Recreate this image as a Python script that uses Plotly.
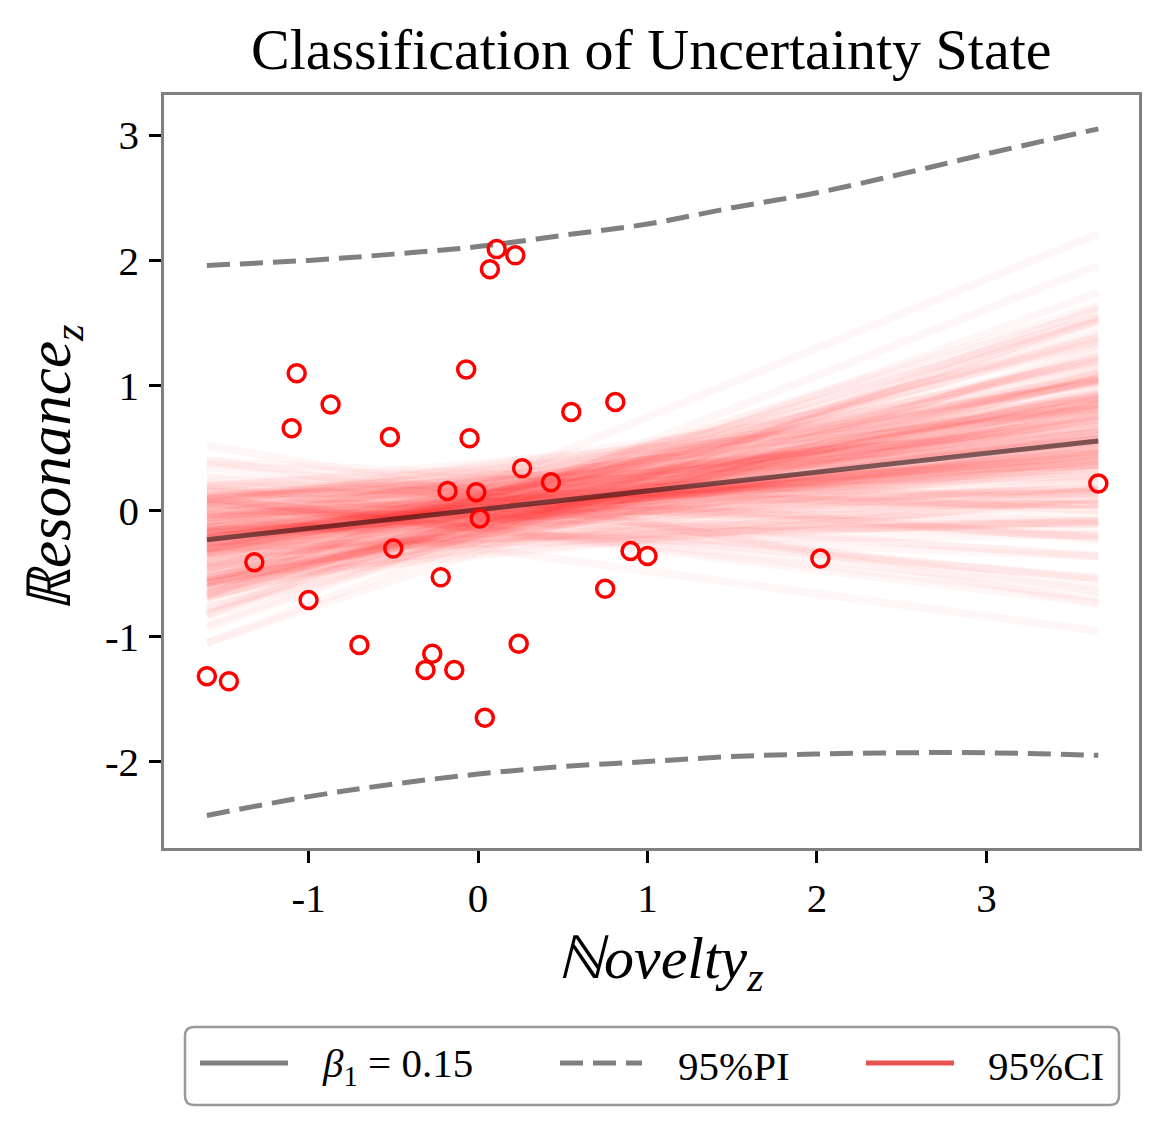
import plotly.graph_objects as go

# observed points (z-scored)
novelty = [-1.60, -1.47, -1.32, -1.07, -1.10, -1.00, -0.87, -0.70, -0.52, -0.50,
           -0.31, -0.27, -0.22, -0.18, -0.14, -0.07, -0.05, -0.01, 0.01, 0.04,
           0.07, 0.11, 0.22, 0.24, 0.26, 0.43, 0.55, 0.75, 0.81, 0.90,
           1.00, 2.02, 3.66]
resonance = [-1.32, -1.36, -0.41, 1.10, 0.66, -0.71, 0.85, -1.07, 0.59, -0.30,
             -1.27, -1.14, -0.53, 0.16, -1.27, 1.13, 0.58, 0.15, -0.06, -1.65,
             1.93, 2.09, 2.04, -1.06, 0.34, 0.23, 0.79, -0.62, 0.87, -0.32,
             -0.36, -0.38, 0.22]

# fitted line
beta0 = 0.01
beta1 = 0.15

# posterior draws of the line (intercept, slope)
draw_intercepts = [
    0.05, -0.12, 0.21, -0.03, 0.14, -0.27, 0.08, 0.00, -0.16, 0.31,
    -0.06, 0.11, -0.21, 0.18, 0.02, -0.09, 0.26, -0.33, 0.07, -0.01,
    0.15, -0.14, 0.04, 0.22, -0.19, 0.09, -0.05, 0.35, -0.24, 0.01,
    -0.10, 0.17, -0.02, 0.12, -0.30, 0.06, 0.24, -0.13, 0.03, -0.07,
    0.19, -0.17, 0.10, -0.04, 0.28, -0.22, 0.13, -0.08, 0.00, 0.16,
    -0.11, 0.07, -0.36, 0.20, -0.02, 0.11, -0.15, 0.04, 0.30, -0.06,
    0.09, -0.25, 0.14, 0.02, -0.12, 0.23, -0.09, 0.05, -0.18, 0.38,
    -0.03, 0.12, -0.20, 0.08, 0.01, -0.14, 0.18, -0.07, 0.25, -0.28,
    0.06, -0.01, 0.15, -0.10, 0.03, 0.21, -0.16, 0.10, -0.04, 0.13,
    -0.23, 0.07, -0.08, 0.17, 0.00, -0.12, 0.27, -0.05, 0.09, -0.19,
    -0.04, 0.13, -0.18, 0.07, 0.24, -0.09, 0.02, -0.26, 0.16, -0.01,
    0.10, -0.13, 0.29, -0.06, 0.04, -0.20, 0.12, 0.06, -0.31, 0.19,
    -0.08, 0.01, 0.22, -0.15, 0.08, -0.03, 0.33, -0.11, 0.14, -0.22,
    0.05, -0.17, 0.11, 0.00, -0.07, 0.26, -0.12, 0.03, 0.18, -0.29,
    0.09, -0.02, -0.14, 0.21, 0.04, -0.10, 0.15, -0.24, 0.07, 0.01,
    -0.05, 0.32, -0.16, 0.12, -0.01, 0.08, -0.21, 0.17, -0.09, 0.03,
    0.20, -0.13, 0.06, -0.34, 0.10, -0.04, 0.25, -0.07, 0.14, -0.18,
    0.02, 0.09, -0.11, 0.36, -0.02, 0.13, -0.26, 0.05, -0.08, 0.19,
    -0.15, 0.00, 0.11, -0.06, 0.23, -0.19, 0.07, -0.03, 0.16, -0.10,
    0.04, -0.23, 0.12, -0.01, 0.28, -0.14, 0.08, -0.05, 0.02, -0.12]
draw_slopes = [
    0.22, 0.08, 0.31, -0.02, 0.17, 0.12, 0.40, 0.05, 0.26, 0.14,
    -0.08, 0.19, 0.35, 0.10, 0.01, 0.28, 0.15, 0.45, 0.06, 0.21,
    0.13, -0.13, 0.24, 0.09, 0.33, 0.18, -0.04, 0.16, 0.51, 0.11,
    0.27, 0.03, 0.20, 0.38, -0.18, 0.14, 0.07, 0.30, 0.12, 0.23,
    -0.01, 0.17, 0.42, 0.10, 0.25, 0.04, 0.19, 0.36, -0.10, 0.15,
    0.29, 0.08, 0.13, 0.55, 0.02, 0.21, 0.34, 0.11, -0.06, 0.18,
    0.26, 0.14, -0.24, 0.09, 0.32, 0.16, 0.05, 0.22, 0.47, 0.12,
    0.00, 0.28, 0.19, 0.07, 0.37, -0.15, 0.15, 0.24, 0.10, 0.31,
    0.17, 0.43, 0.06, 0.20, -0.03, 0.13, 0.27, 0.09, 0.39, 0.16,
    0.04, 0.23, 0.11, -0.11, 0.30, 0.18, 0.08, 0.49, 0.14, 0.21,
    0.12, 0.25, -0.05, 0.18, 0.09, 0.33, 0.15, 0.02, 0.28, 0.11,
    0.41, -0.11, 0.20, 0.07, 0.16, 0.30, -0.02, 0.23, 0.13, 0.05,
    0.36, 0.10, 0.19, -0.16, 0.26, 0.14, 0.08, 0.32, 0.00, 0.21,
    0.17, 0.46, 0.04, 0.24, 0.12, -0.07, 0.29, 0.15, 0.09, 0.20,
    -0.20, 0.13, 0.34, 0.06, 0.22, 0.18, -0.03, 0.27, 0.11, 0.39,
    0.08, 0.16, 0.25, -0.09, 0.14, 0.31, 0.03, 0.19, 0.44, 0.10,
    0.23, 0.01, 0.17, 0.12, 0.35, -0.14, 0.21, 0.07, 0.28, 0.15,
    0.53, 0.09, -0.01, 0.19, 0.13, 0.26, 0.05, 0.37, 0.16, -0.05,
    0.22, 0.11, 0.30, 0.06, 0.18, 0.40, 0.02, 0.14, 0.24, -0.12,
    0.20, 0.08, 0.33, 0.15, 0.10, 0.27, -0.08, 0.17, 0.12, 0.21]

# 95% prediction interval
pi_x = [-1.60, -1.0, -0.5, 0.0, 0.5, 1.0, 1.5, 2.0, 2.5, 3.0, 3.66]
pi_upper = [1.96, 2.00, 2.05, 2.11, 2.20, 2.29, 2.42, 2.54, 2.69, 2.85, 3.05]
pi_lower = [-2.43, -2.28, -2.18, -2.10, -2.04, -2.00, -1.96, -1.94, -1.93, -1.93, -1.95]

x_ticks = [-1, 0, 1, 2, 3]
x_ticktext = ["-1", "0", "1", "2", "3"]
y_ticks = [-2, -1, 0, 1, 2, 3]
y_ticktext = ["-2", "-1", "0", "1", "2", "3"]

serif = "Liberation Serif, Times New Roman, serif"
gray = "rgb(128,128,128)"
ci_red = "rgb(232,82,80)"

x0, x1 = min(novelty), max(novelty)

fig = go.Figure()

for a, b in zip(draw_intercepts, draw_slopes):
    fig.add_trace(go.Scatter(
        x=[x0, x1], y=[a + b * x0, a + b * x1], mode="lines",
        line=dict(color="rgba(255,0,0,0.03)", width=8),
        hoverinfo="skip", showlegend=False))

fig.add_trace(go.Scatter(
    x=[x0, x1], y=[beta0 + beta1 * x0, beta0 + beta1 * x1], mode="lines",
    line=dict(color="rgba(0,0,0,0.5)", width=5), showlegend=False))

for band in (pi_upper, pi_lower):
    fig.add_trace(go.Scatter(
        x=pi_x, y=band, mode="lines", line_shape="spline",
        line=dict(color=gray, width=5, dash="23px,10px"), showlegend=False))

fig.add_trace(go.Scatter(
    x=novelty, y=resonance, mode="markers",
    marker=dict(symbol="circle-open", size=17, color="red", line=dict(width=3.5, color="red")),
    showlegend=False))

# plot area on the page: left 164, right 1139, top 95, bottom 848
def px(x):
    return (x - 164) / 975

def py(y):
    return (848 - y) / 753

# legend drawn by hand below the plot
bx0, bx1, by0, by1, r = 185, 1119, 1027, 1105, 9
box = (f"M {px(bx0 + r)},{py(by0)} L {px(bx1 - r)},{py(by0)} "
       f"Q {px(bx1)},{py(by0)} {px(bx1)},{py(by0 + r)} "
       f"L {px(bx1)},{py(by1 - r)} Q {px(bx1)},{py(by1)} {px(bx1 - r)},{py(by1)} "
       f"L {px(bx0 + r)},{py(by1)} Q {px(bx0)},{py(by1)} {px(bx0)},{py(by1 - r)} "
       f"L {px(bx0)},{py(by0 + r)} Q {px(bx0)},{py(by0)} {px(bx0 + r)},{py(by0)} Z")
shapes = [dict(type="path", xref="paper", yref="paper", path=box,
               line=dict(color="rgb(153,153,153)", width=2.5), fillcolor="white")]
legend_items = [
    (200, 288, dict(color=gray, width=5), 320, "<i>β</i><sub>1</sub> = 0.15"),
    (560, 642, dict(color=gray, width=5, dash="23px,10px"), 676, "95%PI"),
    (866, 954, dict(color=ci_red, width=5), 986, "95%CI"),
]
annotations = []
for lx0, lx1, lstyle, tx, label in legend_items:
    shapes.append(dict(type="line", xref="paper", yref="paper",
                       x0=px(lx0), x1=px(lx1), y0=py(1063), y1=py(1063), line=lstyle))
    annotations.append(dict(text=label, xref="paper", yref="paper", x=px(tx), y=py(1066),
                            xanchor="left", yanchor="middle", showarrow=False,
                            font=dict(family=serif, size=41, color="black")))

annotations += [
    dict(text="Classification of Uncertainty State", xref="paper", yref="paper",
         x=0.5, y=py(49), xanchor="center", yanchor="middle", showarrow=False,
         font=dict(family=serif, size=58, color="black")),
    dict(text="<i>ℕovelty<sub>z</sub></i>", xref="paper", yref="paper",
         x=px(660), y=py(962), xanchor="center", yanchor="middle", showarrow=False,
         font=dict(family=serif, size=60, color="black")),
    dict(text="<i>ℝesonance<sub>z</sub></i>", xref="paper", yref="paper",
         x=px(54), y=py(468), xanchor="center", yanchor="middle", showarrow=False,
         textangle=-90, font=dict(family=serif, size=61, color="black")),
]

axis_style = dict(showgrid=False, zeroline=False, showline=True, mirror=True,
                  linecolor=gray, linewidth=2.5, ticks="outside", ticklen=12,
                  tickwidth=2.5, tickcolor="black",
                  tickfont=dict(family=serif, size=41, color="black"))

# the page adds an 8px body margin, so the figure is 16px smaller than the window
fig.update_layout(
    width=1154, height=1118,
    margin=dict(l=156, r=23, t=87, b=278),
    paper_bgcolor="white", plot_bgcolor="white",
    showlegend=False, shapes=shapes, annotations=annotations,
    xaxis=dict(range=[-1.853, 3.90], tickvals=x_ticks, ticktext=x_ticktext,
               ticklabelstandoff=0, **axis_style),
    yaxis=dict(range=[-2.69, 3.32], tickvals=y_ticks, ticktext=y_ticktext,
               ticklabelstandoff=2, **axis_style),
)

fig.write_html("out.html")
